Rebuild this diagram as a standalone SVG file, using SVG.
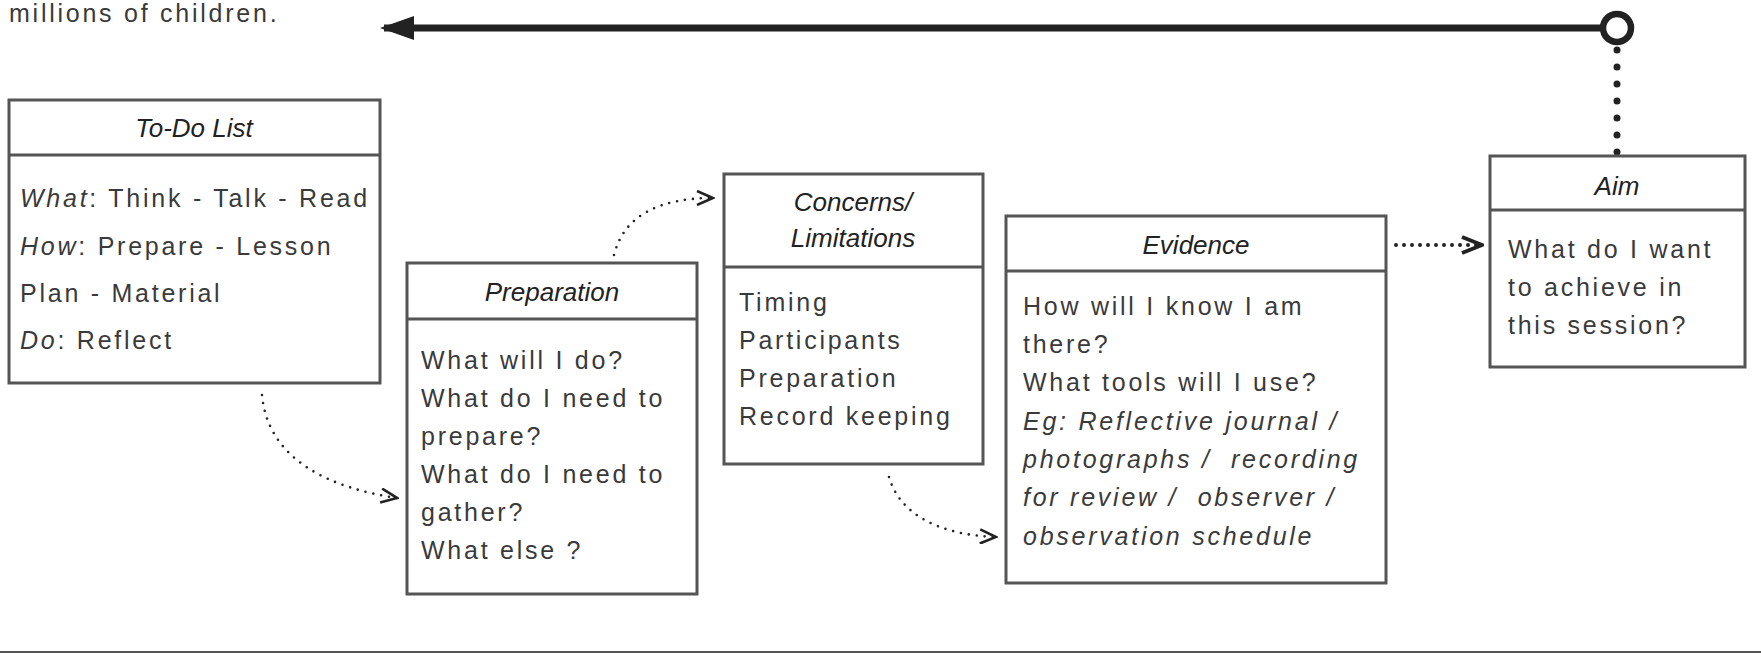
<svg xmlns="http://www.w3.org/2000/svg" width="1761" height="654" viewBox="0 0 1761 654">
<style>
.box{fill:#fff;stroke:#555;stroke-width:3}
.div{stroke:#555;stroke-width:3}
.title{font-family:"Liberation Sans","DejaVu Sans",sans-serif;font-style:italic;font-size:26px;fill:#222;text-anchor:middle}
.body{font-family:"Liberation Sans","DejaVu Sans",sans-serif;font-size:25px;fill:#3a3a3a;letter-spacing:2.75px}
.it{font-style:italic}
.dot{fill:none;stroke:#222;stroke-width:2.6;stroke-dasharray:0 8;stroke-linecap:round}
</style>
<defs>
<marker id="chev" viewBox="0 0 20 16" refX="18" refY="8" markerWidth="20" markerHeight="16" markerUnits="userSpaceOnUse" orient="auto">
<path d="M2,1 L18,8 L2,15" fill="none" stroke="#222" stroke-width="2.6"/>
</marker>
<marker id="chevB" viewBox="0 0 24 20" refX="22" refY="10" markerWidth="24" markerHeight="20" markerUnits="userSpaceOnUse" orient="auto">
<path d="M2,2 L22,10 L2,18" fill="none" stroke="#222" stroke-width="4"/>
</marker>
<marker id="tri" viewBox="0 0 34 24" refX="30" refY="12" markerWidth="34" markerHeight="24" markerUnits="userSpaceOnUse" orient="auto">
<path d="M34,12 L0,0 L0,24 Z" fill="#222"/>
</marker>
</defs>
<rect width="1761" height="654" fill="#fff"/>
<text class="body" x="9" y="22">millions of children.</text>
<line x1="0" y1="652" x2="1761" y2="652" stroke="#555" stroke-width="2"/>

<g id="connectors">
<line x1="1603" y1="28" x2="384" y2="28" stroke="#222" stroke-width="7" marker-end="url(#tri)"/>
<circle cx="1617" cy="28" r="14" fill="#fff" stroke="#222" stroke-width="6.5"/>
<line x1="1617" y1="50" x2="1617" y2="153" stroke="#222" stroke-width="7" stroke-dasharray="0 17" stroke-linecap="round"/>
<path class="dot" d="M1396,245 L1482,245" style="stroke-width:4" marker-end="url(#chevB)"/>
<path class="dot" d="M262,395 C268,460 330,488 397,498" marker-end="url(#chev)"/>
<path class="dot" d="M614,255 C624,215 660,198 713,198" marker-end="url(#chev)"/>
<path class="dot" d="M889,477 C900,515 940,535 996,537" marker-end="url(#chev)"/>
</g>

<g id="todo">
<rect class="box" x="9" y="100" width="371" height="283"/>
<line class="div" x1="9" y1="155" x2="380" y2="155"/>
<text class="title" x="194" y="137">To-Do List</text>
<text class="body" x="20" y="207"><tspan class="it">What</tspan>: Think - Talk - Read</text>
<text class="body" x="20" y="255"><tspan class="it">How</tspan>: Prepare - Lesson</text>
<text class="body" x="20" y="302">Plan - Material</text>
<text class="body" x="20" y="349"><tspan class="it">Do</tspan>: Reflect</text>
</g>

<g id="preparation">
<rect class="box" x="407" y="263" width="290" height="331"/>
<line class="div" x1="407" y1="319" x2="697" y2="319"/>
<text class="title" x="552" y="301">Preparation</text>
<text class="body" x="421" y="369">What will I do?</text>
<text class="body" x="421" y="407">What do I need to</text>
<text class="body" x="421" y="445">prepare?</text>
<text class="body" x="421" y="483">What do I need to</text>
<text class="body" x="421" y="521">gather?</text>
<text class="body" x="421" y="559">What else ?</text>
</g>

<g id="concerns">
<rect class="box" x="724" y="174" width="259" height="290"/>
<line class="div" x1="724" y1="267" x2="983" y2="267"/>
<text class="title" x="853" y="211">Concerns/</text>
<text class="title" x="853" y="247">Limitations</text>
<text class="body" x="739" y="311">Timing</text>
<text class="body" x="739" y="349">Participants</text>
<text class="body" x="739" y="387">Preparation</text>
<text class="body" x="739" y="425">Record keeping</text>
</g>

<g id="evidence">
<rect class="box" x="1006" y="216" width="380" height="367"/>
<line class="div" x1="1006" y1="271" x2="1386" y2="271"/>
<text class="title" x="1196" y="254">Evidence</text>
<text class="body" x="1023" y="315">How will I know I am</text>
<text class="body" x="1023" y="353">there?</text>
<text class="body" x="1023" y="391">What tools will I use?</text>
<text class="body it" x="1023" y="430">Eg: Reflective journal /</text>
<text class="body it" x="1023" y="468" xml:space="preserve">photographs /  recording</text>
<text class="body it" x="1023" y="506" xml:space="preserve">for review /  observer /</text>
<text class="body it" x="1023" y="545">observation schedule</text>
</g>

<g id="aim">
<rect class="box" x="1490" y="156" width="255" height="211"/>
<line class="div" x1="1490" y1="210" x2="1745" y2="210"/>
<text class="title" x="1617" y="195">Aim</text>
<text class="body" x="1508" y="258">What do I want</text>
<text class="body" x="1508" y="296">to achieve in</text>
<text class="body" x="1508" y="334">this session?</text>
</g>
</svg>
